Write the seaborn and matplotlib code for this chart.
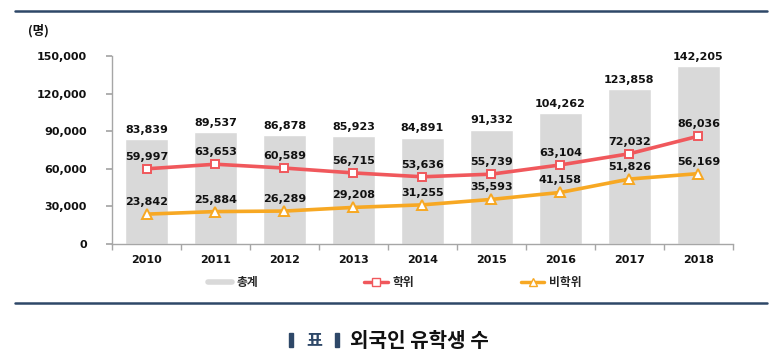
import numpy as np
import pandas as pd
import seaborn as sns
import matplotlib.pyplot as plt
from matplotlib.lines import Line2D
from matplotlib.patches import Rectangle

years = ['2010', '2011', '2012', '2013', '2014', '2015', '2016', '2017', '2018']
total = [83839, 89537, 86878, 85923, 84891, 91332, 104262, 123858, 142205]
degree = [59997, 63653, 60589, 56715, 53636, 55739, 63104, 72032, 86036]
non_degree = [23842, 25884, 26289, 29208, 31255, 35593, 41158, 51826, 56169]
yticks = [0, 30000, 60000, 90000, 120000, 150000]

df = pd.DataFrame({'year': years, 'total': total, 'degree': degree, 'non_degree': non_degree})

sns.set_theme(style='white')
plt.rcParams['font.family'] = ['DejaVu Sans', 'Noto Sans CJK KR']

grey = '#d9d9d9'
red = '#f0585c'
orange = '#f7a823'
navy = '#2e4868'
kr = ['Noto Sans CJK KR', 'DejaVu Sans']

fig = plt.figure(figsize=(7.79, 3.59), dpi=100)
ax = fig.add_axes([0.1438, 0.3203, 0.797, 0.5237])

sns.barplot(data=df, x='year', y='total', color=grey, width=0.62, saturation=1, ax=ax)
sns.pointplot(data=df, x='year', y='degree', color=red, markers='s', linewidth=2.6,
              markersize=6, markerfacecolor='white', markeredgecolor=red, markeredgewidth=1.4, ax=ax)
sns.pointplot(data=df, x='year', y='non_degree', color=orange, markers='^', linewidth=2.6,
              markersize=6.5, markerfacecolor='white', markeredgecolor=orange, markeredgewidth=1.4, ax=ax)

lab = dict(ha='center', va='bottom', fontsize=8, fontweight='bold', color='#111111',
           textcoords='offset points')
for i in range(len(years)):
    ax.annotate(f'{total[i]:,}', (i, total[i]), xytext=(0, 3), **lab)
    ax.annotate(f'{degree[i]:,}', (i, degree[i]), xytext=(0, 5), **lab)
    ax.annotate(f'{non_degree[i]:,}', (i, non_degree[i]), xytext=(0, 5), **lab)

ax.set_ylim(0, 150000)
ax.set_xlim(-0.5, len(years) - 0.5)
ax.set_yticks(yticks)
ax.set_yticklabels([f'{v:,}' for v in yticks], fontsize=8, fontweight='bold', color='#111111')
ax.set_xticks(np.arange(len(years)))
ax.set_xticklabels(years, fontsize=8, fontweight='bold', color='#111111')
ax.set_xticks(np.arange(-0.5, len(years), 1), minor=True)
ax.tick_params(axis='x', which='major', length=0, pad=8)
ax.tick_params(axis='x', which='minor', length=4, color='#a6a6a6', direction='out', bottom=True)
ax.tick_params(axis='y', length=4, color='#a6a6a6', direction='out', left=True, pad=14)
ax.set_xlabel('')
ax.set_ylabel('')
for s in ['top', 'right']:
    ax.spines[s].set_visible(False)
for s in ['left', 'bottom']:
    ax.spines[s].set_color('#a6a6a6')
    ax.spines[s].set_linewidth(1)

fig.text(0.036, 0.913, '(명)', fontsize=9, fontweight='heavy', color='#111111',
         family=kr, va='center')

# legend
handles = [Line2D([], [], color=grey, linewidth=4),
           Line2D([], [], color=red, linewidth=2.5, marker='s', markersize=6,
                  markerfacecolor='white', markeredgecolor=red),
           Line2D([], [], color=orange, linewidth=2.5, marker='^', markersize=6,
                  markerfacecolor='white', markeredgecolor=orange)]
fig.legend(handles, ['총계', '학위', '비학위'], loc='center', bbox_to_anchor=(0.507, 0.212),
           ncol=3, frameon=False, handlelength=2.0, handletextpad=0.4, columnspacing=9.0,
           prop={'family': kr, 'size': 8.5, 'weight': 'bold'})

# rules
fig.add_artist(Line2D([0.019, 0.985], [0.969, 0.969], color=navy, linewidth=1.8))
fig.add_artist(Line2D([0.019, 0.985], [0.156, 0.156], color=navy, linewidth=1.8))

# caption
fig.add_artist(Rectangle((0.371, 0.033), 0.005, 0.040, color=navy))
fig.add_artist(Rectangle((0.430, 0.033), 0.005, 0.040, color=navy))
fig.text(0.404, 0.052, '표', fontsize=12.5, fontweight='bold', color=navy, ha='center', va='center',
         family=kr)
fig.text(0.449, 0.052, '외국인 유학생 수', fontsize=14.5, fontweight='bold', color='#111111',
         ha='left', va='center', family=kr)

fig.savefig('out.png', dpi=100)
